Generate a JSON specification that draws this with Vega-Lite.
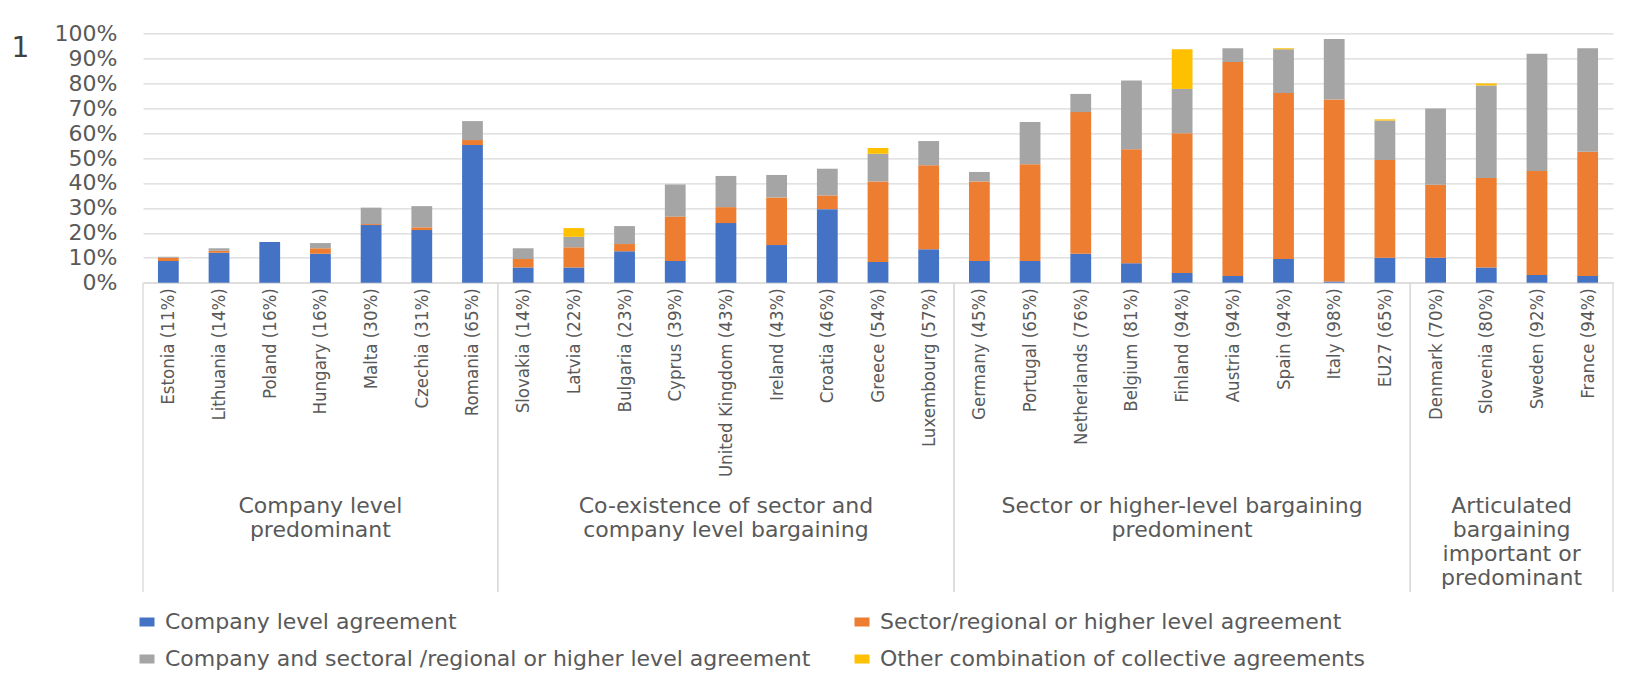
{
  "$schema": "https://vega.github.io/schema/vega-lite/v6.json",
  "width": 1470,
  "height": 249.4,
  "autosize": {"type": "none"},
  "padding": {"left": 143, "top": 33.3, "right": 24, "bottom": 401.3},
  "background": "white",
  "title": {"text": "1", "orient": "left", "angle": 0, "anchor": "end", "font": "DejaVu Sans", "fontSize": 28, "fontWeight": "normal", "color": "#404040", "offset": 7, "dy": 13, "baseline": "top"},
  "config": {"view": {"stroke": null}},
  "datasets": {
    "bars": [
      {"country": "Estonia (11%)", "company": 8.7, "sector": 1.3, "both": 0.4, "other": 0},
      {"country": "Lithuania (14%)", "company": 12.0, "sector": 0.8, "both": 1.0, "other": 0},
      {"country": "Poland (16%)", "company": 16.3, "sector": 0, "both": 0, "other": 0},
      {"country": "Hungary (16%)", "company": 11.6, "sector": 2.2, "both": 2.1, "other": 0},
      {"country": "Malta (30%)", "company": 23.1, "sector": 0.4, "both": 6.6, "other": 0},
      {"country": "Czechia (31%)", "company": 21.1, "sector": 1.1, "both": 8.5, "other": 0},
      {"country": "Romania (65%)", "company": 55.2, "sector": 2.0, "both": 7.6, "other": 0},
      {"country": "Slovakia (14%)", "company": 6.1, "sector": 3.4, "both": 4.3, "other": 0},
      {"country": "Latvia (22%)", "company": 6.1, "sector": 8.1, "both": 4.2, "other": 3.5},
      {"country": "Bulgaria (23%)", "company": 12.6, "sector": 2.9, "both": 7.2, "other": 0},
      {"country": "Cyprus (39%)", "company": 8.7, "sector": 17.8, "both": 12.9, "other": 0},
      {"country": "United Kingdom (43%)", "company": 23.9, "sector": 6.4, "both": 12.5, "other": 0},
      {"country": "Ireland (43%)", "company": 15.1, "sector": 19.1, "both": 9.0, "other": 0},
      {"country": "Croatia (46%)", "company": 29.5, "sector": 5.5, "both": 10.7, "other": 0},
      {"country": "Greece (54%)", "company": 8.3, "sector": 32.3, "both": 11.1, "other": 2.3},
      {"country": "Luxembourg (57%)", "company": 13.4, "sector": 33.7, "both": 9.7, "other": 0},
      {"country": "Germany (45%)", "company": 8.7, "sector": 31.9, "both": 3.8, "other": 0},
      {"country": "Portugal (65%)", "company": 8.7, "sector": 38.8, "both": 16.9, "other": 0},
      {"country": "Netherlands (76%)", "company": 11.6, "sector": 56.8, "both": 7.3, "other": 0},
      {"country": "Belgium (81%)", "company": 7.8, "sector": 45.7, "both": 27.6, "other": 0},
      {"country": "Finland (94%)", "company": 3.9, "sector": 56.0, "both": 17.8, "other": 15.9},
      {"country": "Austria (94%)", "company": 2.7, "sector": 85.8, "both": 5.5, "other": 0},
      {"country": "Spain (94%)", "company": 9.5, "sector": 66.6, "both": 17.5, "other": 0.4},
      {"country": "Italy (98%)", "company": 0.5, "sector": 73.0, "both": 24.2, "other": 0},
      {"country": "EU27 (65%)", "company": 10.0, "sector": 39.2, "both": 15.8, "other": 0.5},
      {"country": "Denmark (70%)", "company": 10.0, "sector": 29.3, "both": 30.5, "other": 0},
      {"country": "Slovenia (80%)", "company": 6.1, "sector": 35.9, "both": 37.1, "other": 0.8},
      {"country": "Sweden (92%)", "company": 3.1, "sector": 41.7, "both": 47.0, "other": 0},
      {"country": "France (94%)", "company": 2.7, "sector": 49.8, "both": 41.5, "other": 0}
    ],
    "groups": [
      {"label": ["Company level", "predominant"], "first": "Estonia (11%)", "last": "Romania (65%)", "mid": "Hungary (16%)"},
      {"label": ["Co-existence of sector and", "company level bargaining"], "first": "Slovakia (14%)", "last": "Luxembourg (57%)", "mid": "United Kingdom (43%)"},
      {"label": ["Sector or higher-level bargaining", "predominent"], "first": "Germany (45%)", "last": "EU27 (65%)", "mid": "Finland (94%)"},
      {"label": ["Articulated", "bargaining", "important or", "predominant"], "first": "Denmark (70%)", "last": "France (94%)", "mid": "Slovenia (80%)"}
    ]
  },
  "layer": [
    {
      "data": {"name": "bars"},
      "transform": [
        {"fold": ["company", "sector", "both", "other"], "as": ["key", "value"]},
        {"calculate": "indexof(['company','sector','both','other'], datum.key)", "as": "ord"}
      ],
      "mark": {"type": "bar", "width": {"band": 0.41}},
      "encoding": {
        "x": {
          "field": "country", "type": "nominal", "title": null,
          "scale": {"domain": ["Estonia (11%)", "Lithuania (14%)", "Poland (16%)", "Hungary (16%)", "Malta (30%)", "Czechia (31%)", "Romania (65%)", "Slovakia (14%)", "Latvia (22%)", "Bulgaria (23%)", "Cyprus (39%)", "United Kingdom (43%)", "Ireland (43%)", "Croatia (46%)", "Greece (54%)", "Luxembourg (57%)", "Germany (45%)", "Portugal (65%)", "Netherlands (76%)", "Belgium (81%)", "Finland (94%)", "Austria (94%)", "Spain (94%)", "Italy (98%)", "EU27 (65%)", "Denmark (70%)", "Slovenia (80%)", "Sweden (92%)", "France (94%)"], "paddingInner": 0, "paddingOuter": 0},
          "axis": {"labelAngle": -90, "labelFont": "DejaVu Sans Condensed, Roboto, Liberation Sans", "labelFontSize": 18.5, "labelColor": "#595959", "labelPadding": 5, "ticks": false, "domainColor": "#d9d9d9", "domainWidth": 1.3, "labelLimit": 400}
        },
        "y": {
          "field": "value", "type": "quantitative", "stack": "zero", "title": null,
          "scale": {"domain": [0, 100], "nice": false},
          "axis": {"values": [0, 10, 20, 30, 40, 50, 60, 70, 80, 90, 100], "labelOverlap": false, "labelExpr": "datum.value + '%'", "labelFont": "DejaVu Sans", "labelFontSize": 22, "labelColor": "#595959", "labelPadding": 26, "ticks": false, "domain": false, "gridColor": "#d9d9d9", "gridWidth": 1.3}
        },
        "color": {
          "field": "key", "type": "nominal",
          "scale": {"domain": ["company", "sector", "both", "other"], "range": ["#4472C4", "#ED7D31", "#A5A5A5", "#FFC000"]},
          "legend": {"title": null, "orient": "none", "legendX": -7, "legendY": 577.7, "columns": 2, "direction": "horizontal", "symbolType": "M-1,-0.6H1V0.6H-1Z", "symbolSize": 225, "symbolStrokeWidth": 0, "labelFont": "DejaVu Sans", "labelFontSize": 22, "labelColor": "#595959", "labelOffset": 7, "labelLimit": 1000, "rowPadding": 15, "columnPadding": 40,
            "labelExpr": "{'company': 'Company level agreement', 'sector': 'Sector/regional or higher level agreement', 'both': 'Company and sectoral /regional or higher level agreement', 'other': 'Other combination of collective agreements'}[datum.label]"}
        },
        "order": {"field": "ord", "type": "quantitative", "sort": "ascending"}
      }
    },
    {
      "data": {"name": "groups"},
      "mark": {"type": "rule", "color": "#d9d9d9", "strokeWidth": 1.3},
      "encoding": {
        "x": {"field": "first", "type": "nominal", "bandPosition": 0, "title": null},
        "y": {"datum": 0, "type": "quantitative", "scale": {"domain": [0, 100], "nice": false}, "axis": {"values": [0, 10, 20, 30, 40, 50, 60, 70, 80, 90, 100], "labelOverlap": false}},
        "y2": {"datum": -124}
      }
    },
    {
      "data": {"name": "groups"},
      "mark": {"type": "rule", "color": "#d9d9d9", "strokeWidth": 1.3},
      "encoding": {
        "x": {"field": "last", "type": "nominal", "bandPosition": 1, "title": null},
        "y": {"datum": 0, "type": "quantitative", "scale": {"domain": [0, 100], "nice": false}, "axis": {"values": [0, 10, 20, 30, 40, 50, 60, 70, 80, 90, 100], "labelOverlap": false}},
        "y2": {"datum": -124}
      }
    },
    {
      "data": {"name": "groups"},
      "transform": [{"filter": "datum.mid != 'Slovenia (80%)'"}],
      "mark": {"type": "text", "baseline": "top", "align": "center", "lineHeight": 24, "font": "DejaVu Sans", "fontSize": 22, "color": "#595959"},
      "encoding": {
        "x": {"field": "mid", "type": "nominal", "title": null},
        "y": {"datum": -85.5, "type": "quantitative", "scale": {"domain": [0, 100], "nice": false}, "axis": {"values": [0, 10, 20, 30, 40, 50, 60, 70, 80, 90, 100], "labelOverlap": false}},
        "text": {"field": "label"}
      }
    },
    {
      "data": {"name": "groups"},
      "transform": [{"filter": "datum.mid == 'Slovenia (80%)'"}],
      "mark": {"type": "text", "baseline": "top", "align": "center", "lineHeight": 24, "font": "DejaVu Sans", "fontSize": 22, "color": "#595959"},
      "encoding": {
        "x": {"field": "mid", "type": "nominal", "bandPosition": 1, "title": null},
        "y": {"datum": -85.5, "type": "quantitative", "scale": {"domain": [0, 100], "nice": false}, "axis": {"values": [0, 10, 20, 30, 40, 50, 60, 70, 80, 90, 100], "labelOverlap": false}},
        "text": {"field": "label"}
      }
    }
  ]
}
